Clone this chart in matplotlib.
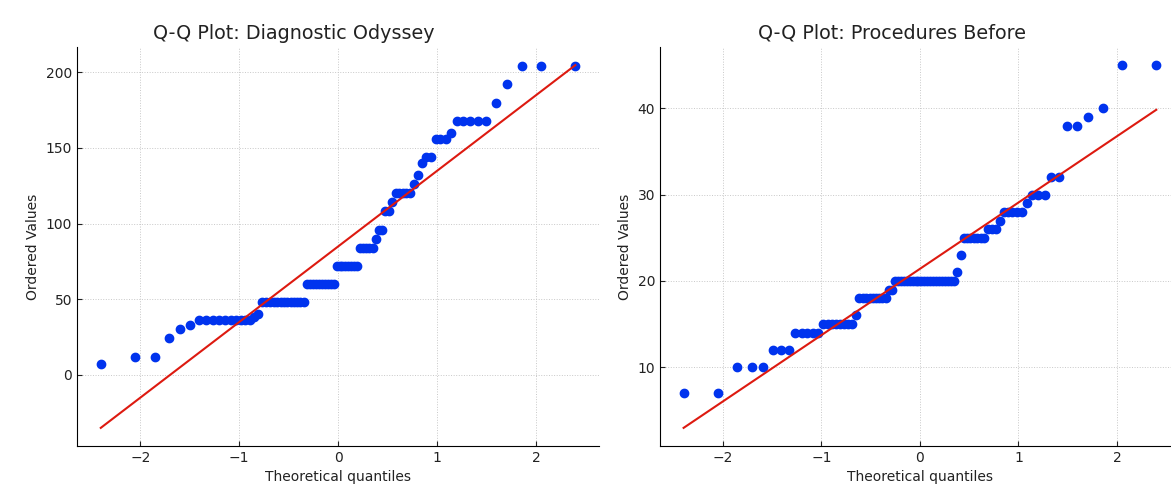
import numpy as np
import matplotlib
matplotlib.use("Agg")
import matplotlib.pyplot as plt
from statistics import NormalDist

# ordered sample values (value, how many times it occurs)
odyssey_values = [7, 12, 24, 30, 33, 36, 38, 40, 48, 60, 72, 84, 90, 96, 108, 114,
                  120, 126, 132, 140, 144, 156, 160, 168, 180, 192, 204]
odyssey_counts = [1, 2, 1, 1, 1, 10, 1, 1, 13, 10, 8, 5, 1, 2, 2, 1,
                  5, 1, 1, 1, 2, 3, 1, 5, 1, 1, 3]

procedures_values = [7, 10, 12, 14, 15, 16, 18, 19, 20, 21, 23, 25, 26, 27, 28,
                     29, 30, 32, 38, 39, 40, 45]
procedures_counts = [2, 3, 3, 5, 8, 1, 9, 2, 21, 1, 1, 7, 3, 1, 5,
                     1, 3, 2, 2, 1, 1, 2]

titles = ["Q-Q Plot: Diagnostic Odyssey", "Q-Q Plot: Procedures Before"]


def theoretical_quantiles(n):
    # Filliben order statistic medians, same as scipy.stats.probplot
    m = (np.arange(1, n + 1) - 0.3175) / (n + 0.365)
    m[-1] = 0.5 ** (1.0 / n)
    m[0] = 1 - m[-1]
    nd = NormalDist()
    return np.array([nd.inv_cdf(p) for p in m])


def qq_plot(ax, values, counts, title, title_x):
    y = np.repeat(values, counts).astype(float)
    x = theoretical_quantiles(len(y))
    slope, intercept = np.polyfit(x, y, 1)
    ax.plot(x, y, 'o', color='#0033ee', markersize=6)
    ax.plot(x, slope * x + intercept, '-', color='#dd1a10', linewidth=1.5)
    ax.set_title(title, fontsize=13.8, color='#222222', x=title_x)
    ax.set_xlabel('Theoretical quantiles', fontsize=10, color='#222222')
    ax.set_ylabel('Ordered Values', fontsize=10, color='#222222')
    ax.spines['top'].set_visible(False)
    ax.spines['right'].set_visible(False)
    ax.tick_params(direction='in', labelsize=10, colors='#222222')
    ax.grid(True, linestyle=':', color='#c8c8c8', linewidth=0.7)
    ax.set_axisbelow(True)


fig = plt.figure(figsize=(11.71, 4.86), dpi=100)
ax1 = fig.add_axes([0.0658, 0.0823, 0.4458, 0.821])
ax2 = fig.add_axes([0.5636, 0.0823, 0.4440, 0.821])

qq_plot(ax1, odyssey_values, odyssey_counts, titles[0], 0.415)
qq_plot(ax2, procedures_values, procedures_counts, titles[1], 0.446)
ax1.set_yticks([0, 50, 100, 150, 200])
ax2.set_yticks([10, 20, 30, 40])

fig.savefig('out.png', dpi=100)
